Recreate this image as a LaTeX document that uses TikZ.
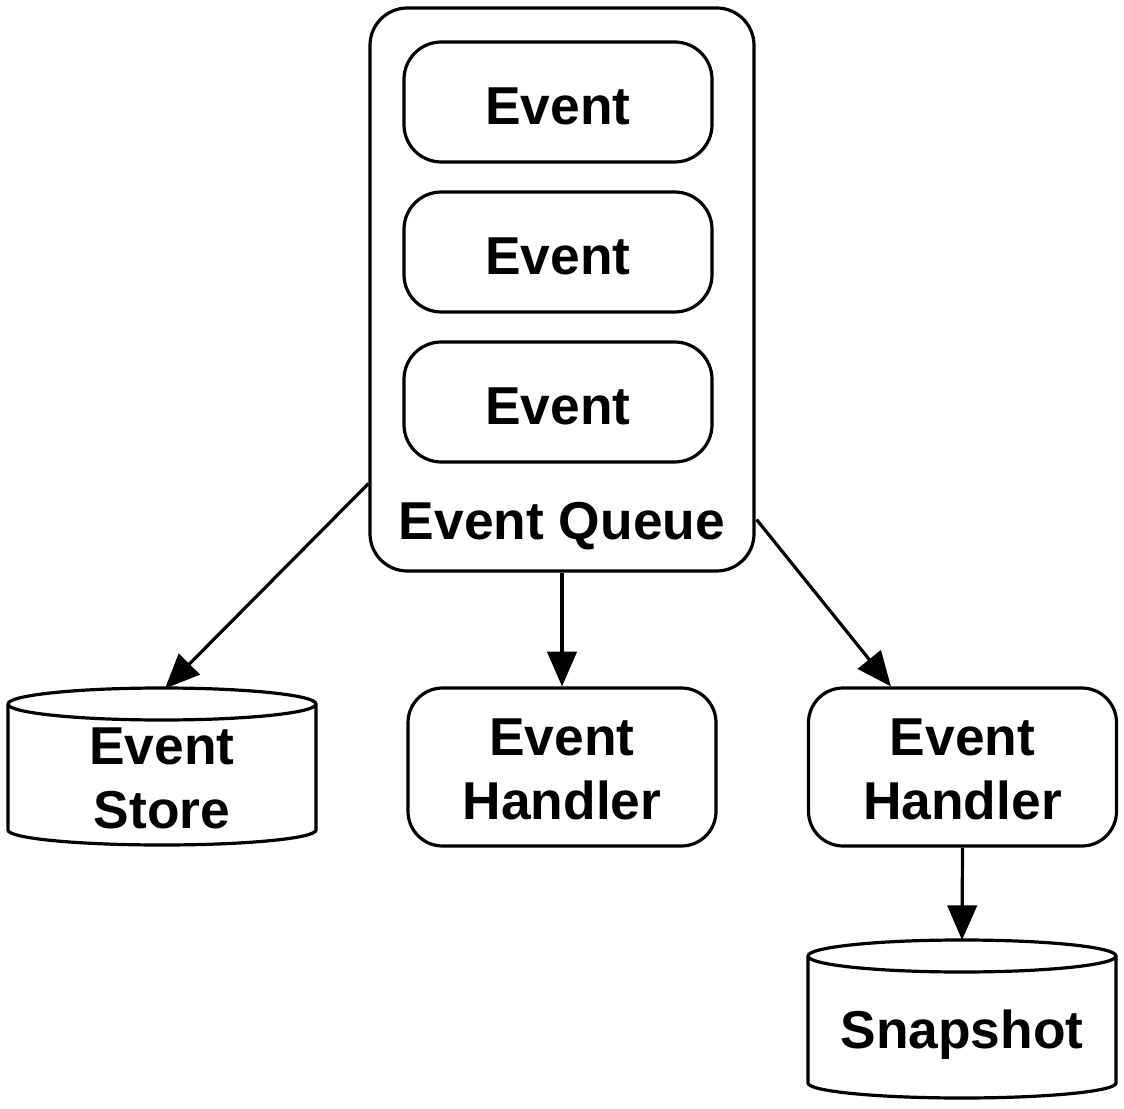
\documentclass[tikz,border=0pt]{standalone}
\usepackage{fontspec}
\setmainfont{Liberation Sans}
\usetikzlibrary{arrows.meta,calc}
\begin{document}
\begin{tikzpicture}[x=0.75pt,y=0.75pt,
  every node/.style={font=\fontsize{40}{48}\selectfont\bfseries, align=center, inner sep=0pt},
  ln/.style={line width=2.4pt},
  rbox/.style={draw, ln, rounded corners=28pt, minimum width=231pt},
  evbox/.style={rbox, minimum height=90pt, text height=33.5pt, text depth=0pt},
  hbox/.style={rbox, minimum height=118.5pt, rounded corners=26pt},
  cyl/.style={minimum width=231pt, minimum height=118pt},
  arr/.style={ln, -{Triangle[length=26pt,width=22pt]}}
]
\useasboundingbox (0,0) rectangle (1124,1108);

% Event queue
\node[draw, ln, rounded corners=28pt, minimum width=288pt, minimum height=422.25pt] (queue) at (562,818.5) {};
\node[evbox] (e1) at (558,1006) {Event};
\node[evbox] (e2) at (558,856) {Event};
\node[evbox] (e3) at (558,706) {Event};
\node (qlabel) at (562,582) {Event Queue};

% Handlers
\node[hbox] (h1) at (562,341) {};
\node (h1lbl) at (562,339) {Event\\Handler};
\node[hbox] (h2) at (962.5,341) {};
\node (h2lbl) at (962.5,339) {Event\\Handler};

% Event Store cylinder
\node[cyl] (store) at (162,341.5) {};
\draw[ln] (8,404) -- (8,278) arc[start angle=180,end angle=360,x radius=154,y radius=15]
  -- (316,404) arc[start angle=0,end angle=180,x radius=154,y radius=16] -- cycle;
\draw[ln] (8,404) arc[start angle=180,end angle=360,x radius=154,y radius=16];
\node (storelbl) at (162,330) {Event\\Store};

% Snapshot cylinder
\node[cyl] (snap) at (962,89) {};
\draw[ln] (808,152) -- (808,25) arc[start angle=180,end angle=360,x radius=154,y radius=15]
  -- (1116,152) arc[start angle=0,end angle=180,x radius=154,y radius=16] -- cycle;
\draw[ln] (808,152) arc[start angle=180,end angle=360,x radius=154,y radius=16];
\node (snaplbl) at (962,73) {Snapshot};

% Connectors
\draw[arr] ($(queue.south west)+(0,89)$) -- ($(store.north)+(3,-1)$);
\draw[arr] (queue.south) -- (h1.north);
\draw[arr] ($(queue.south east)+(1,53)$) -- ($(h2.north west)+(84,0)$);
\draw[arr] (h2.south) -- (snap.north);
\end{tikzpicture}
\end{document}
